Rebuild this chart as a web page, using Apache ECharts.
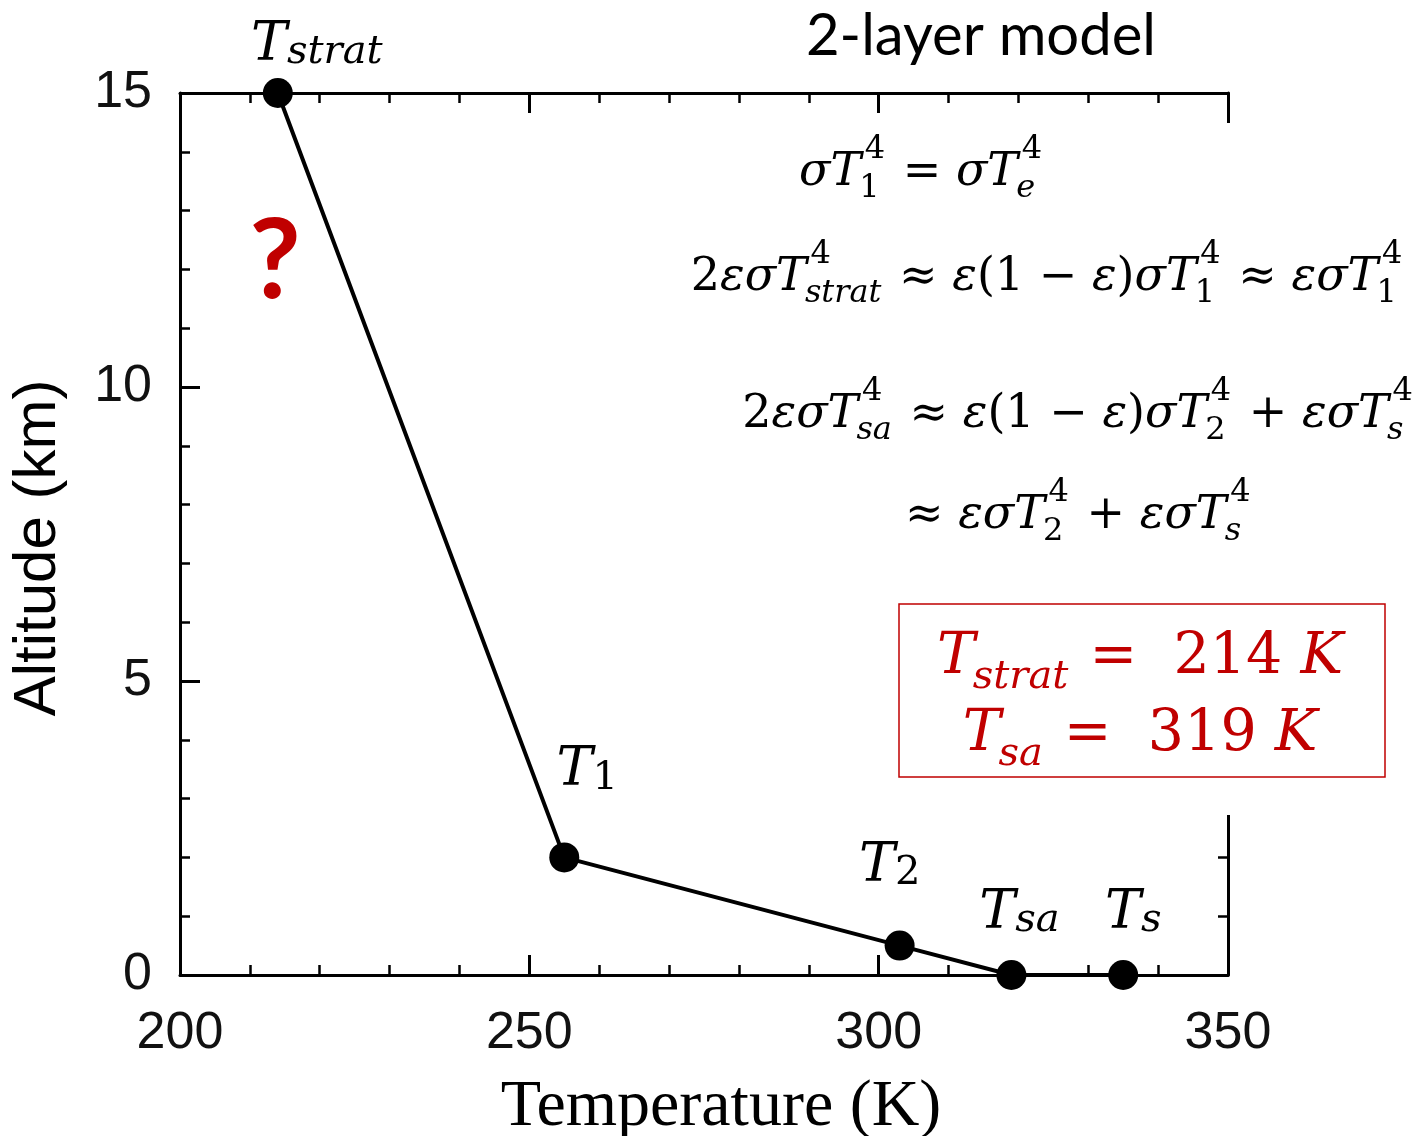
<!DOCTYPE html>
<html>
<head>
<meta charset="utf-8">
<script src="https://cdn.jsdelivr.net/npm/echarts@6/dist/echarts.min.js"></script>
<style>
  html, body { margin: 0; background: #fff; }
  #chart { width: 1428px; height: 1136px; }
</style>
</head>
<body>
<div id="chart"></div>
<script>
// profile
const temps = [214, 255, 303, 319, 335];
const alts = [15, 2, 0.5, 0, 0];
const pointSubs = ['strat', '1', '2', 'sa', 's'];
const xRange = [200, 350];
const yRange = [0, 15];

// label nudges per point [dx, dy] (style only)
const labelNudge = [[39, 10], [23, -29], [-10, -22], [8, -4], [10, -4]];

const equations = [
  'σT_{1}^{4} = σT_{e}^{4}',
  '2εσT_{strat}^{4} ≈ ε(1 − ε)σT_{1}^{4} ≈ εσT_{1}^{4}',
  '2εσT_{sa}^{4} ≈ ε(1 − ε)σT_{2}^{4} + εσT_{s}^{4}',
  '≈ εσT_{2}^{4} + εσT_{s}^{4}'
];
const results = ['T_{strat} =  214 K', 'T_{sa} =  319 K'];

const RED = '#c00000';
const SERIF = '"DejaVu Serif", "Liberation Serif", serif';
const SANS = '"Liberation Sans", Arial, sans-serif';

// --- tiny math layout: italic letters, upright digits/ops, stacked sub/sup ---
const ctx2d = document.createElement('canvas').getContext('2d');
function fontOf(size, italic) {
  return (italic ? 'italic ' : '') + size + 'px ' + SERIF;
}
function textW(t, size, italic) {
  ctx2d.font = fontOf(size, italic);
  return ctx2d.measureText(t).width;
}
function baseShift(size) {
  ctx2d.font = fontOf(size, false);
  ctx2d.textBaseline = 'middle';
  return ctx2d.measureText('H').actualBoundingBoxDescent;
}
const isItalic = ch => /[A-Za-z\u0370-\u03ff]/.test(ch);

function runsOf(str) {
  const runs = [];
  for (const ch of str) {
    const it = isItalic(ch);
    const last = runs[runs.length - 1];
    if (last && last.it === it) last.t += ch;
    else runs.push({ t: ch, it: it });
  }
  return runs;
}

function parseMath(src) {
  const items = [];
  const re = /([_^])\{([^}]*)\}/g;
  let pos = 0, m;
  while ((m = re.exec(src))) {
    if (m.index > pos) items.push({ base: src.slice(pos, m.index) });
    let last = items[items.length - 1];
    if (!last || last.base !== undefined) {
      last = { sub: '', sup: '' };
      items.push(last);
    }
    last[m[1] === '_' ? 'sub' : 'sup'] = m[2];
    pos = re.lastIndex;
  }
  if (pos < src.length) items.push({ base: src.slice(pos) });
  return items;
}

function mathText(src, anchorX, baseline, size, color, align) {
  const ss = Math.round(size * 0.7);
  const pieces = [];
  let x = 0;
  parseMath(src).forEach(item => {
    if (item.base !== undefined) {
      runsOf(item.base).forEach(r => {
        pieces.push({ t: r.t, it: r.it, size: size, dx: x, dy: 0 });
        x += textW(r.t, size, r.it);
      });
    } else {
      let wMax = 0;
      // sup sits a bit right of the sub (italic correction)
      [['sub', size * 0.26, -size * 0.04], ['sup', -size * 0.58, size * 0.08]].forEach(([k, dy, kx]) => {
        if (!item[k]) return;
        let sx = x + kx;
        runsOf(item[k]).forEach(r => {
          pieces.push({ t: r.t, it: r.it, size: ss, dx: sx, dy: dy });
          sx += textW(r.t, ss, r.it);
        });
        wMax = Math.max(wMax, sx - x);
      });
      x += wMax + 3;
    }
  });
  const left = align === 'center' ? anchorX - x / 2 : align === 'right' ? anchorX - x : anchorX;
  return pieces.map(p => ({
    type: 'text',
    z: 100,
    x: left + p.dx,
    y: baseline + p.dy - baseShift(p.size),
    style: {
      text: p.t,
      font: fontOf(p.size, p.it),
      fill: color,
      align: 'left',
      verticalAlign: 'middle'
    }
  }));
}

const axisLine = { show: true, onZero: false, lineStyle: { color: '#000', width: 3 } };
const axisTick = { show: true, inside: true, length: 20, lineStyle: { color: '#000', width: 3 } };
const minorTick = { show: true, splitNumber: 5, length: 10, lineStyle: { color: '#000', width: 2.5 } };
const tickFont = { color: '#111', fontFamily: SANS, fontSize: 52 };

const chart = echarts.init(document.getElementById('chart'));

const graphics = [
  // gap in the right frame where the equations sit
  { type: 'rect', z: 50, shape: { x: 1205, y: 123, width: 60, height: 692 }, style: { fill: '#fff' } },
  { type: 'rect', z: 60, shape: { x: 899, y: 604, width: 486, height: 173 },
    style: { fill: 'transparent', stroke: RED, lineWidth: 1.5 } },
  { type: 'text', z: 100, x: 981, y: 36,
    style: { text: '2-layer model', font: '58px Lato, "Open Sans", sans-serif', fill: '#000',
             align: 'center', verticalAlign: 'middle' } },
  { type: 'text', z: 100, x: 275, y: 262,
    style: { text: '?', font: 'bold 112px Lato, "Open Sans", sans-serif', fill: RED,
             align: 'center', verticalAlign: 'middle' } }
]
  .concat(mathText(equations[0], 922, 185, 46, '#000', 'center'))
  .concat(mathText(equations[1], 1048, 290, 46, '#000', 'center'))
  .concat(mathText(equations[2], 1079, 427, 46, '#000', 'center'))
  .concat(mathText(equations[3], 905, 528, 46, '#000', 'left'))
  .concat(mathText(results[0], 1140, 673, 57, RED, 'center'))
  .concat(mathText(results[1], 1140, 750, 57, RED, 'center'));

const option = {
  animation: false,
  backgroundColor: '#fff',
  grid: { left: 180, right: 200, top: 93, bottom: 161, outerBoundsMode: 'none', containLabel: false },
  xAxis: [
    {
      type: 'value', position: 'bottom', min: xRange[0], max: xRange[1], interval: 50,
      name: 'Temperature (K)', nameLocation: 'middle', nameGap: 100,
      nameTextStyle: { color: '#000', fontFamily: '"Liberation Serif", serif', fontSize: 66, padding: [0, 0, 0, 34] },
      axisLine: axisLine, axisTick: axisTick, minorTick: minorTick,
      splitLine: { show: false },
      axisLabel: Object.assign({ margin: 33 }, tickFont)
    },
    {
      type: 'value', position: 'top', min: xRange[0], max: xRange[1], interval: 50,
      axisLine: axisLine, axisTick: axisTick, minorTick: minorTick,
      splitLine: { show: false }, axisLabel: { show: false }
    }
  ],
  yAxis: [
    {
      type: 'value', position: 'left', min: yRange[0], max: yRange[1], interval: 5,
      name: 'Altitude (km)', nameLocation: 'middle', nameGap: 112, nameRotate: 90,
      nameTextStyle: { color: '#000', fontFamily: SANS, fontSize: 60, padding: [0, 28, 0, 0] },
      axisLine: axisLine, axisTick: axisTick, minorTick: minorTick,
      splitLine: { show: false },
      axisLabel: Object.assign({ margin: 28, padding: [12, 0, 0, 0] }, tickFont)
    },
    {
      type: 'value', position: 'right', min: yRange[0], max: yRange[1], interval: 5,
      axisLine: axisLine, axisTick: axisTick, minorTick: minorTick,
      splitLine: { show: false }, axisLabel: { show: false }
    }
  ],
  series: [
    {
      type: 'line',
      clip: false,
      symbol: 'circle',
      symbolSize: 30,
      lineStyle: { color: '#000', width: 4 },
      itemStyle: { color: '#000' },
      z: 5,
      data: temps.map((t, i) => ({
        value: [t, alts[i]],
        label: { offset: labelNudge[i] }
      })),
      label: {
        show: true,
        position: 'top',
        distance: 15,
        formatter: p => {
          const s = pointSubs[p.dataIndex];
          return '{T|T}' + (/^\d+$/.test(s) ? '{n|' + s + '}' : '{s|' + s + '}');
        },
        rich: {
          T: { fontFamily: SERIF, fontStyle: 'italic', fontSize: 54, lineHeight: 54, color: '#000' },
          s: { fontFamily: SERIF, fontStyle: 'italic', fontSize: 40, lineHeight: 12,
               verticalAlign: 'bottom', color: '#000' },
          n: { fontFamily: SERIF, fontSize: 40, lineHeight: 12, verticalAlign: 'bottom', color: '#000' }
        }
      }
    }
  ],
  graphic: { elements: graphics }
};

chart.setOption(option);
</script>
</body>
</html>
